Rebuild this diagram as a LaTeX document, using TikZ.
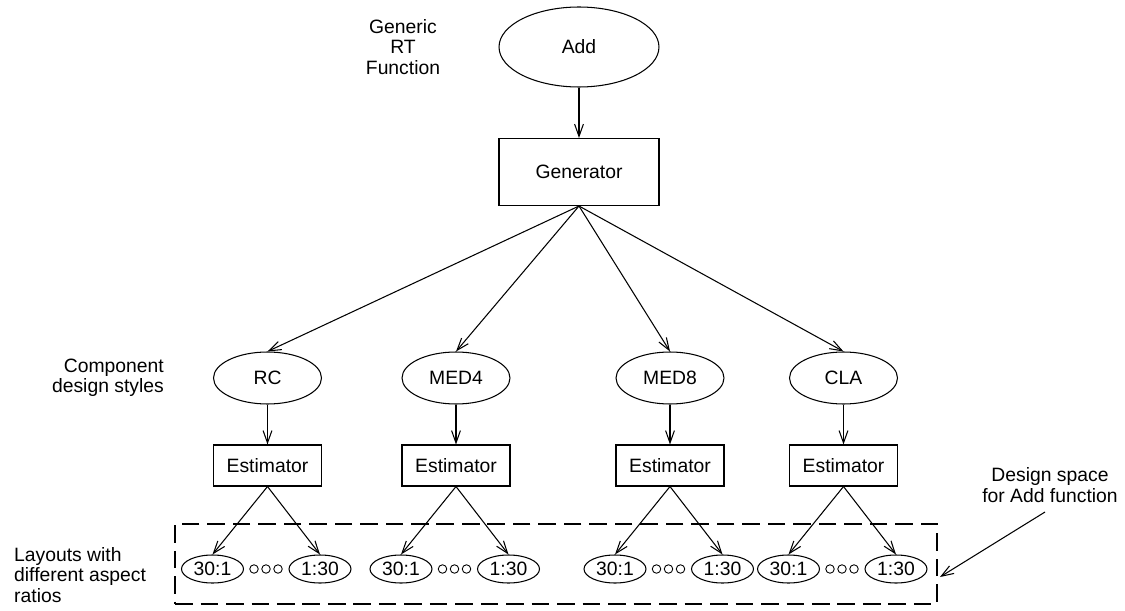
\documentclass[tikz,border=0pt]{standalone}
\usepackage{fontspec}
\setmainfont{Liberation Sans}
\usetikzlibrary{shapes.geometric,arrows.meta,calc}
\begin{document}
\begin{tikzpicture}[x=0.02cm,y=-0.02cm,
  every node/.style={font=\fontsize{11}{11.6}\selectfont},
  big/.style={draw,ellipse,line width=0.6pt,inner sep=0pt,minimum width=3.2cm,minimum height=1.6cm},
  genbox/.style={draw,rectangle,line width=0.6pt,inner sep=0pt,minimum width=3.2cm,minimum height=1.34cm},
  styleell/.style={draw,ellipse,line width=0.6pt,inner sep=0pt,minimum width=2.16cm,minimum height=1.04cm},
  estbox/.style={draw,rectangle,line width=0.6pt,inner sep=0pt,minimum width=2.16cm,minimum height=0.82cm},
  lay/.style={draw,ellipse,line width=0.6pt,inner sep=0pt,minimum width=1.24cm,minimum height=0.56cm},
  dot/.style={draw,circle,line width=0.5pt,inner sep=0pt,minimum size=0.17cm},
  conn/.style={line width=0.6pt,-{Straight Barb[length=7pt,width=5pt]}},
  space/.style={draw,rectangle,line width=1.2pt,dash pattern=on 10pt off 4.5pt,inner sep=0pt,minimum width=15.24cm,minimum height=1.6cm}
]
\useasboundingbox (0,0) rectangle (1125,611);

\node[big] (add) at (579,47) {Add};
\node[genbox] (gen) at (579,172) {Generator};
\draw[conn] (add.south) -- (gen.north);

\node[align=center] (generic) at (403,47) {Generic\\RT\\Function};
\node[align=right,anchor=east] (comp) at (170,378) {Component\\design styles};
\node[align=left,anchor=west] (layouts) at (8,575) {Layouts with\\different aspect\\ratios};
\node[align=center] (dspace) at (1050,485) {Design space\\for Add function};

\node[space] (box) at (556,564) {};

\foreach \n/\c/\t in {rc/267.5/RC, medfour/456/MED4, medeight/670/MED8, cla/843.5/CLA}{
  \node[styleell] (\n) at (\c,378) {\t};
  \node[estbox] (\n est) at (\c,465.5) {Estimator};
  \draw[conn] (gen.south) -- (\n.north);
  \draw[conn] (\n.south) -- (\n est.north);
  \node[lay] (\n a) at (\c-55,569) {30:1};
  \node[lay] (\n b) at (\c+52.5,569) {1:30};
  \draw[conn] (\n est.south) -- (\n a.north);
  \draw[conn] (\n est.south) -- (\n b.north);
  \node[dot] (\n d1) at (\c-13.5,569) {};
  \node[dot] (\n d2) at (\c-1.5,569) {};
  \node[dot] (\n d3) at (\c+10.5,569) {};
}

\coordinate (dsarrow) at (1045,512);
\draw[conn] (dsarrow) -- ([yshift=-0.26cm,xshift=0.04cm]box.east);
\end{tikzpicture}
\end{document}
